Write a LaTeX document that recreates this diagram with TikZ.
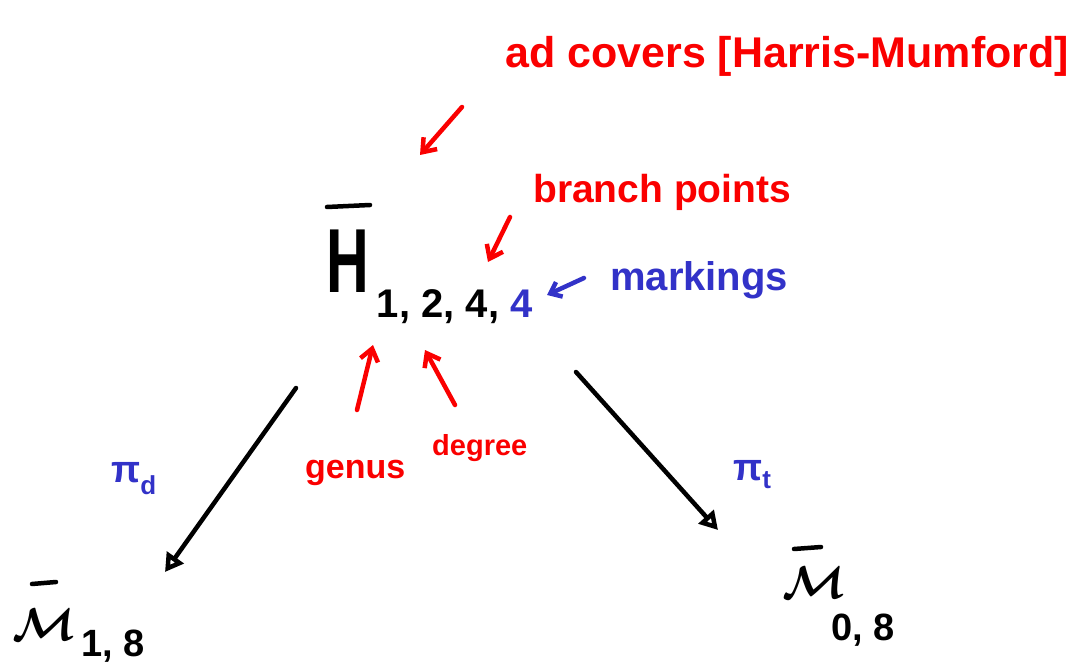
\documentclass[tikz,border=0pt]{standalone}
\usepackage{fontspec}
\setmainfont{Liberation Sans}
\usetikzlibrary{arrows.meta}
\definecolor{hred}{RGB}{250,0,0}
\definecolor{hblue}{RGB}{50,50,200}
\begin{document}
\begin{tikzpicture}[x=1pt,y=-1pt,
  lbl/.style={inner sep=0pt, anchor=base west, font=\bfseries},
  redarr/.style={draw=hred, line width=4.5pt, line cap=round, -{Straight Barb[length=12pt,width=18pt]}},
  bluearr/.style={draw=hblue, line width=4.5pt, line cap=round, -{Straight Barb[length=10pt,width=16pt]}},
  blackarr/.style={draw=black, line width=4.5pt, line cap=round, -{Triangle[open,length=18pt,width=20pt]}},
  barline/.style={draw=black, line width=4.5pt, line cap=round}
]
\useasboundingbox (0,0) rectangle (1078,663);

% labels
\node[lbl, text=hred] (ad) at (505,68) {\fontsize{43}{50}\selectfont ad covers [Harris-Mumford]};
\node[lbl, text=hred] (bp) at (533,203) {\fontsize{39}{46}\selectfont branch points};
\node[lbl, text=hblue] (mk) at (610,290) {\fontsize{40}{46}\selectfont markings};
\node[lbl, text=hred] (gn) at (305,478) {\fontsize{34}{40}\selectfont genus};
\node[lbl, text=hred] (dg) at (432,455) {\fontsize{29}{34}\selectfont degree};
\node[lbl, text=hblue] (pd) at (111,482) {\fontsize{38}{44}\selectfont π\raisebox{-12pt}{\fontsize{26}{30}\selectfont d}};
\node[lbl, text=hblue] (pt) at (733,480) {\fontsize{38}{44}\selectfont π\raisebox{-8pt}{\fontsize{26}{30}\selectfont t}};

% main objects
\node[lbl] (H) at (326,292) {\fontsize{91}{100}\selectfont\scalebox{0.65}[1]{H}\hspace{8pt}\raisebox{-25pt}{\fontsize{40}{44}\selectfont 1, 2, 4, \textcolor{hblue}{4}}};
\draw[barline] (327,207) -- (370,205);
\node[lbl] (M1) at (12,640) {\scalebox{4.6}{\boldmath$\mathcal M$}\hspace{6pt}\raisebox{-16pt}{\fontsize{38}{42}\selectfont 1, 8}};
\draw[barline] (32,584) -- (56,582);
\node[lbl] (M0) at (782,598) {\scalebox{4.6}{\boldmath$\mathcal M$}\hspace{-14pt}\raisebox{-42pt}{\fontsize{38}{42}\selectfont 0, 8}};
\draw[barline] (794,549) -- (821,547);

% arrow end points
\coordinate (adT) at (462,107);  \coordinate (adH) at (420,155);
\coordinate (bpT) at (510,217);  \coordinate (bpH) at (488,262);
\coordinate (mkT) at (584,278);  \coordinate (mkH) at (547,295);
\coordinate (gnT) at (357,410);  \coordinate (gnH) at (373,345);
\coordinate (dgT) at (455,405);  \coordinate (dgH) at (425,350);
\coordinate (lT) at (296,388);   \coordinate (lH) at (165,572);
\coordinate (rT) at (576,372);   \coordinate (rH) at (718,530);

\draw[redarr] (adT) -- (adH);
\draw[redarr] (bpT) -- (bpH);
\draw[bluearr] (mkT) -- (mkH);
\draw[redarr] (gnT) -- (gnH);
\draw[redarr] (dgT) -- (dgH);
\draw[blackarr] (lT) -- (lH);
\draw[blackarr] (rT) -- (rH);
\end{tikzpicture}
\end{document}
